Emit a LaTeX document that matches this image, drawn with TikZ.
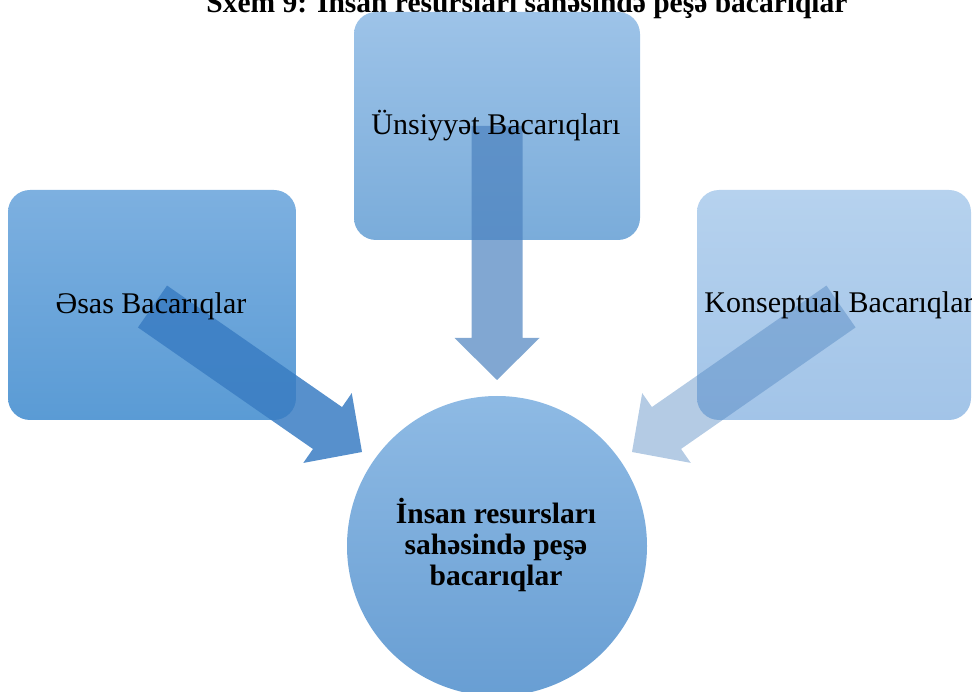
\documentclass[tikz,border=0pt]{standalone}
\usepackage{fontspec}
\setmainfont{Liberation Serif}
\usetikzlibrary{calc}
\definecolor{topT}{RGB}{157,195,232}
\definecolor{topB}{RGB}{122,172,218}
\definecolor{leftT}{RGB}{125,176,224}
\definecolor{leftB}{RGB}{90,155,213}
\definecolor{rightT}{RGB}{182,210,238}
\definecolor{rightB}{RGB}{162,196,232}
\definecolor{circT}{RGB}{142,186,228}
\definecolor{circB}{RGB}{104,158,211}
\definecolor{arrMid}{RGB}{76,130,191}
\definecolor{arrDark}{RGB}{58,125,195}
\newcommand\blockarr[3]{%
  \coordinate (hb) at ($(#2)!42pt!(#1)$);
  \fill[#3] ($(#1)!25.5pt!90:(#2)$) -- ($(hb)!25.5pt!90:(#2)$) -- ($(hb)!42.5pt!90:(#2)$)
    -- (#2) -- ($(hb)!42.5pt!-90:(#2)$) -- ($(hb)!25.5pt!-90:(#2)$) -- ($(#1)!25.5pt!-90:(#2)$) -- cycle;
}
\begin{document}
\begin{tikzpicture}[x=1pt,y=-1pt,
  skillbox/.style={rectangle, rounded corners=22pt, inner sep=0pt},
  lbl/.style={font=\fontsize{30}{32}\selectfont, inner sep=0pt, anchor=base},
  boldlbl/.style={font=\bfseries\fontsize{29.5}{31}\selectfont, inner sep=0pt, align=center}]
\useasboundingbox (0,0) rectangle (972,692);
\clip (0,0) rectangle (972,692);
% title (cut at the top of the picture, as in the reference)
\node[boldlbl, anchor=base] (title) at (527,13) {Sxem 9: İnsan resursları sahəsində peşə bacarıqlar};
% boxes
\node[skillbox, top color=topT, bottom color=topB, minimum width=286pt, minimum height=228pt] (bU) at (497,126) {};
\node[skillbox, top color=leftT, bottom color=leftB, minimum width=288pt, minimum height=230pt] (bA) at (152,305) {};
\node[skillbox, top color=rightT, bottom color=rightB, minimum width=274pt, minimum height=230pt] (bK) at (834,305) {};
% centre circle
\node[circle, top color=circT, bottom color=circB, minimum size=300pt, inner sep=0pt] (c) at (497,546) {};
% block arrows
\coordinate (aUt) at (497,126);
\coordinate (aUh) at (497,380);
\coordinate (aAt) at (152.5,306.5);
\coordinate (aAh) at (362,452);
\coordinate (aKt) at (841,306.5);
\coordinate (aKh) at (632,452);
\blockarr{aUt}{aUh}{arrMid, fill opacity=0.7}
\blockarr{aAt}{aAh}{arrDark, fill opacity=0.85}
\blockarr{aKt}{aKh}{arrMid, fill opacity=0.42}
% labels on top
\node[lbl] (tA) at (151,314) {Əsas Bacarıqlar};
\node[lbl] (tU) at (496,135) {Ünsiyyət Bacarıqları};
\node[lbl] (tK) at (839,313) {Konseptual Bacarıqlar};
\node[boldlbl] (tC) at (496,545) {İnsan resursları\\sahəsində peşə\\bacarıqlar};
\end{tikzpicture}
\end{document}
